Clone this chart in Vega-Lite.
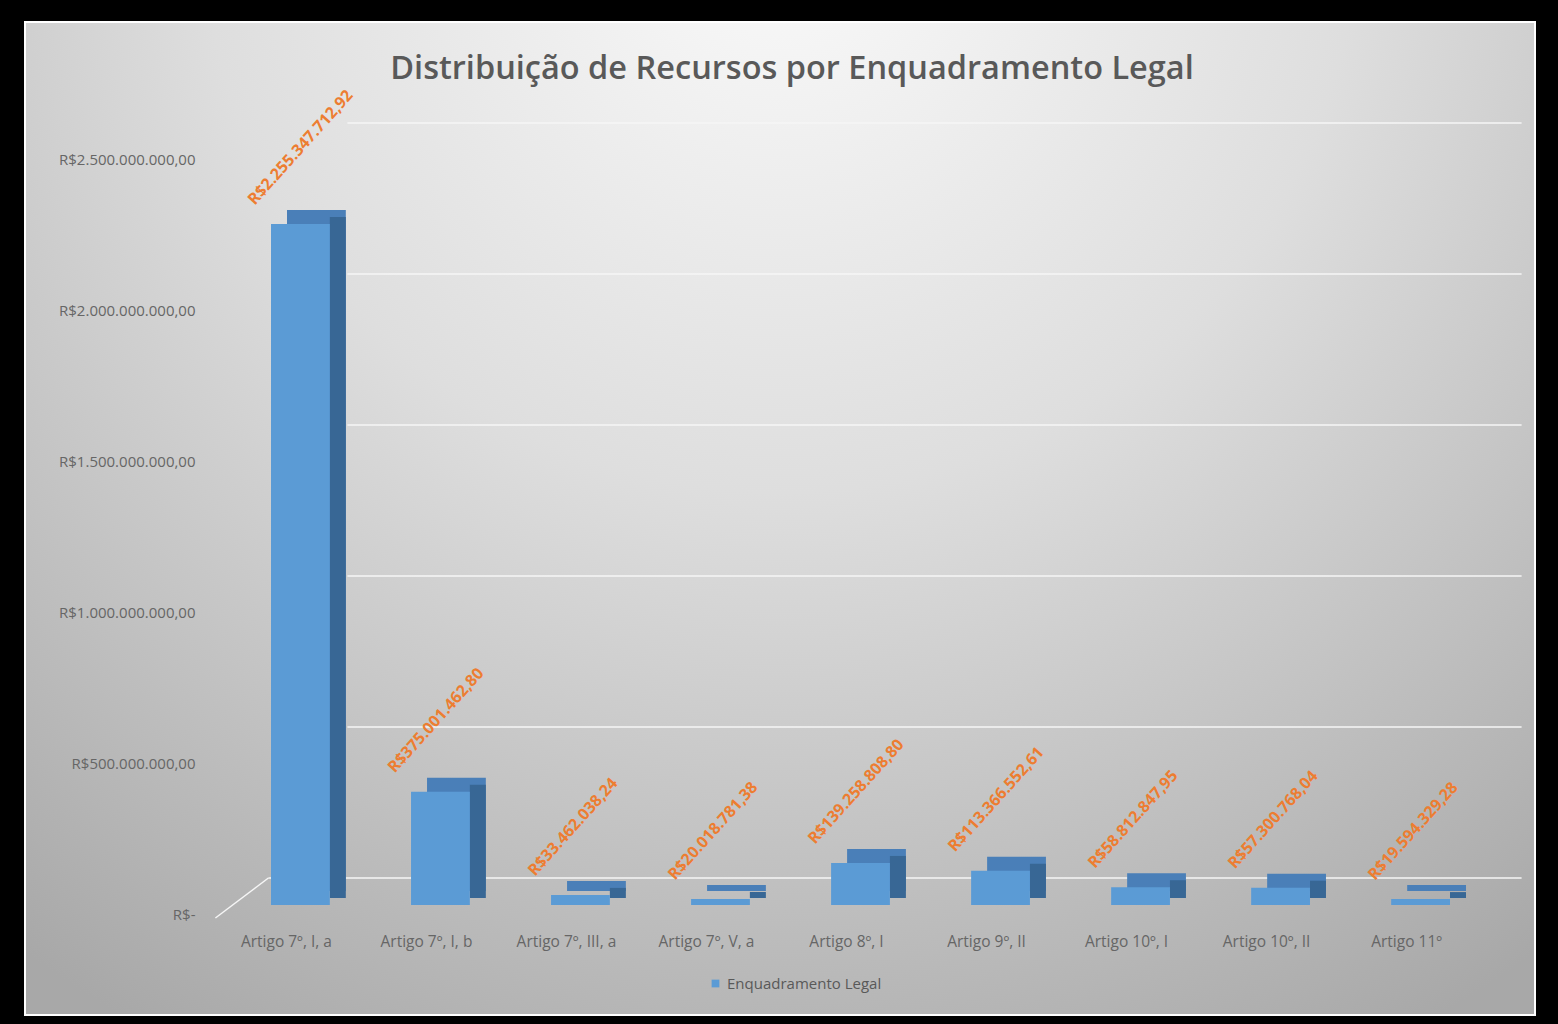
{
  "$schema": "https://vega.github.io/schema/vega-lite/v6.json",
  "width": 1510,
  "height": 993,
  "autosize": {"type": "none"},
  "padding": {"left": 25, "top": 22, "right": 23, "bottom": 9},
  "background": "#000000",
  "config": {
    "locale": {"number": {"decimal": ",", "thousands": ".", "grouping": [3], "currency": ["R$", ""]}},
    "font": "Open Sans",
    "view": {
      "fill": {
        "gradient": "radial",
        "x1": 0.5, "y1": 0.1, "r1": 0,
        "x2": 0.5, "y2": 0.1, "r2": 0.85,
        "stops": [
          {"offset": 0, "color": "#fbfbfb"},
          {"offset": 0.45, "color": "#dedede"},
          {"offset": 1, "color": "#a8a8a8"}
        ]
      },
      "stroke": "#ffffff",
      "strokeWidth": 2
    }
  },
  "title": {
    "text": "Distribuição de Recursos por Enquadramento Legal",
    "font": "Open Sans",
    "fontSize": 32.5,
    "fontWeight": 600,
    "color": "#595959",
    "anchor": "middle",
    "baseline": "middle",
    "offset": -79,
    "dx": 12
  },
  "datasets": {
    "bars": [
      {"artigo": "Artigo 7º, I, a", "valor": 2255347712.92},
      {"artigo": "Artigo 7º, I, b", "valor": 375001462.80},
      {"artigo": "Artigo 7º, III, a", "valor": 33462038.24},
      {"artigo": "Artigo 7º, V, a", "valor": 20018781.38},
      {"artigo": "Artigo 8º, I", "valor": 139258808.80},
      {"artigo": "Artigo 9º, II", "valor": 113366552.61},
      {"artigo": "Artigo 10º, I", "valor": 58812847.95},
      {"artigo": "Artigo 10º, II", "valor": 57300768.04},
      {"artigo": "Artigo 11º", "valor": 19594329.28}
    ],
    "grid": [
      {"tick": 0},
      {"tick": 500000000},
      {"tick": 1000000000},
      {"tick": 1500000000},
      {"tick": 2000000000},
      {"tick": 2500000000}
    ]
  },
  "layer": [
    {
      "data": {"name": "grid"},
      "transform": [{"filter": "datum.tick > 0"}],
      "mark": {"type": "rule", "color": "#f6f6f6", "strokeWidth": 1.5, "xOffset": 47, "x2Offset": 101, "yOffset": -27},
      "encoding": {
        "y": {"field": "tick", "type": "quantitative"},
        "x": {"datum": "Artigo 7º, I, a"},
        "x2": {"datum": "Artigo 11º"}
      }
    },
    {
      "data": {"name": "grid"},
      "transform": [{"filter": "datum.tick == 0"}],
      "mark": {"type": "rule", "color": "#f6f6f6", "strokeWidth": 1.5, "xOffset": -32, "x2Offset": 101, "yOffset": -27},
      "encoding": {
        "y": {"field": "tick", "type": "quantitative"},
        "x": {"datum": "Artigo 7º, I, a"},
        "x2": {"datum": "Artigo 11º"}
      }
    },
    {
      "data": {"name": "grid"},
      "transform": [{"filter": "datum.tick == 0"}],
      "mark": {"type": "rule", "color": "#f6f6f6", "strokeWidth": 1.5, "xOffset": -85, "x2Offset": -32, "yOffset": 13, "y2Offset": -27},
      "encoding": {
        "y": {"field": "tick", "type": "quantitative"},
        "y2": {"field": "tick"},
        "x": {"datum": "Artigo 7º, I, a"},
        "x2": {"datum": "Artigo 7º, I, a"}
      }
    },
    {
      "data": {"name": "bars"},
      "mark": {"type": "bar", "color": "#4a7fb8", "xOffset": 16, "yOffset": -14, "y2Offset": -14},
      "encoding": {
        "x": {"field": "artigo", "type": "nominal"},
        "y": {"field": "valor", "type": "quantitative"},
        "y2": {"datum": 0}
      }
    },
    {
      "data": {"name": "bars"},
      "mark": {"type": "bar", "color": "#386795", "width": 16, "xOffset": 37.4, "yOffset": -7, "y2Offset": -7},
      "encoding": {
        "x": {"field": "artigo", "type": "nominal"},
        "y": {"field": "valor", "type": "quantitative"},
        "y2": {"datum": 0}
      }
    },
    {
      "data": {"name": "bars"},
      "mark": {"type": "bar"},
      "encoding": {
        "x": {
          "field": "artigo",
          "type": "nominal",
          "scale": {
            "domain": ["Artigo 7º, I, a", "Artigo 7º, I, b", "Artigo 7º, III, a", "Artigo 7º, V, a", "Artigo 8º, I", "Artigo 9º, II", "Artigo 10º, I", "Artigo 10º, II", "Artigo 11º"],
            "range": [246, 1425],
            "paddingInner": 0.58,
            "paddingOuter": 0
          },
          "axis": {
            "title": null,
            "orient": "bottom",
            "offset": -75,
            "labelPadding": 1,
            "ticks": false,
            "domain": false,
            "grid": false,
            "labelAngle": 0,
            "labelAlign": "center",
            "labelOffset": -14,
            "labelFontSize": 15.5,
            "labelColor": "#666666",
            "labelFont": "Open Sans"
          }
        },
        "y": {
          "field": "valor",
          "type": "quantitative",
          "scale": {"domain": [-364240000, 2923840000], "nice": false, "zero": false},
          "axis": {
            "title": null,
            "values": [0, 500000000, 1000000000, 1500000000, 2000000000, 2500000000],
            "format": "$,.2f",
            "labelExpr": "datum.value == 0 ? 'R$-' : datum.label",
            "offset": -170,
            "labelPadding": 0,
            "ticks": false,
            "domain": false,
            "grid": false,
            "labelOffset": 10,
            "labelFontSize": 15,
            "labelColor": "#666666",
            "labelFont": "Open Sans"
          }
        },
        "y2": {"datum": 0},
        "color": {
          "datum": "Enquadramento Legal",
          "type": "nominal",
          "scale": {"range": ["#5b9bd5"]},
          "legend": {
            "title": null,
            "orient": "none",
            "legendX": 683,
            "legendY": 954,
            "symbolType": "square",
            "symbolSize": 60,
            "symbolStrokeWidth": 0,
            "labelFontSize": 15,
            "labelColor": "#595959",
            "labelFont": "Open Sans"
          }
        }
      }
    },
    {
      "data": {"name": "bars"},
      "mark": {"type": "text", "angle": -48, "align": "left", "baseline": "middle", "dx": -17, "dy": -51, "color": "#ed7d31", "fontWeight": "bold", "fontSize": 16, "font": "Open Sans"},
      "encoding": {
        "x": {"field": "artigo", "type": "nominal"},
        "y": {"field": "valor", "type": "quantitative"},
        "text": {"field": "valor", "type": "quantitative", "format": "$,.2f"}
      }
    }
  ]
}
